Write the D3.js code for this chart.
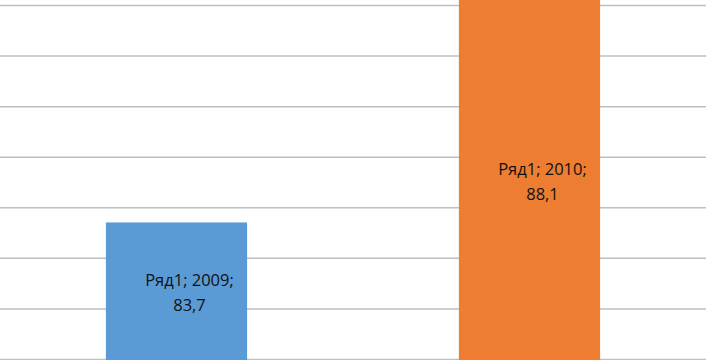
<!DOCTYPE html>
<html>
<head>
<meta charset="utf-8">
<script src="https://cdn.jsdelivr.net/npm/d3@7"></script>
<style>
  body { margin: 0; background: #fff; }
  svg { display: block; }
  .grid line { stroke: #bfbfbf; stroke-width: 1.5; }
  .grid .domain { display: none; }
  .lbl { font-family: "Open Sans", sans-serif; font-size: 16.5px; fill: #111; }
</style>
</head>
<body>
<div id="chart"></div>
<script>
// data
const series = "Ряд1";
const years = ["2009", "2010"];
const values = [83.7, 88.1];
const colours = ["#5b9bd5", "#ed7d31"];
const gridTicks = [81, 82, 83, 84, 85, 86, 87, 88];
const baseValue = 80.93; // axis floor, just under the bottom edge

const width = 706;
const height = 360;

const svg = d3.select("#chart")
    .append("svg")
    .attr("width", width)
    .attr("height", height);

// the picture only shows a slice of the value axis
const y = d3.scaleLinear()
    .domain([81, 88])
    .range([359, 5]);

const x = d3.scaleBand()
    .domain(years)
    .range([0, width])
    .paddingInner(0.6)
    .paddingOuter(0.3);

// gridlines
svg.append("g")
    .attr("class", "grid")
    .call(d3.axisLeft(y).tickValues(gridTicks).tickSize(-width).tickFormat(""));

const rows = years.map((yr, i) => ({ year: yr, value: values[i], colour: colours[i] }));

svg.selectAll(".bar")
    .data(rows)
    .enter()
    .append("rect")
    .attr("class", "bar")
    .attr("x", d => x(d.year))
    .attr("width", x.bandwidth())
    .attr("y", d => y(d.value))
    .attr("height", d => y(baseValue) - y(d.value))
    .attr("fill", d => d.colour);

// data labels, centred in the bar, two lines
const fmt = v => String(v).replace(".", ",");
const mid = d => (y(d.value) + y(baseValue)) / 2;
const labels = svg.selectAll(".lbl")
    .data(rows)
    .enter()
    .append("text")
    .attr("class", "lbl")
    .attr("text-anchor", "middle");

labels.append("tspan")
    .attr("x", d => x(d.year) + x.bandwidth() / 2 + 13)
    .attr("y", d => mid(d) - 6)
    .text(d => series + "; " + d.year + ";");

labels.append("tspan")
    .attr("x", d => x(d.year) + x.bandwidth() / 2 + 13)
    .attr("dy", 24.5)
    .text(d => fmt(d.value));
</script>
</body>
</html>
